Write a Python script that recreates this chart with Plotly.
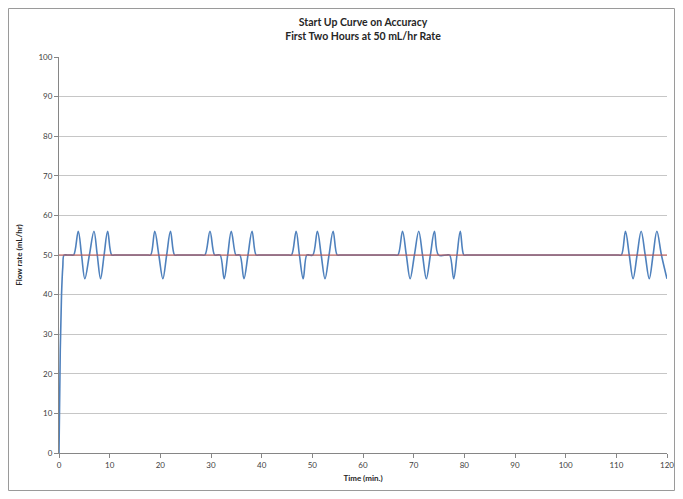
import plotly.graph_objects as go

# flow readings (min, mL/hr), one group per row
time_min = [
    0, 0.25, 0.5, 0.75, 1.0, 1.6, 2.4, 2.9,
    3.8, 4.45, 5.1, 6.0, 6.9, 7.55, 8.2, 8.9, 9.6, 10.4, 11.0,
    17.6, 18.1, 18.9, 19.7, 20.5, 21.25, 22.0, 22.8, 23.3,
    28.2, 28.8, 29.8, 30.7, 31.2, 31.8, 32.6, 33.3, 34.0, 34.9, 35.2, 35.7, 36.5, 37.3, 38.1, 38.9, 39.4,
    45.4, 45.9, 46.8, 47.45, 48.2, 48.9, 49.4, 50.1, 51.0, 51.75, 52.5, 53.3, 54.1, 54.9, 55.4,
    66.3, 66.9, 67.8, 68.55, 69.3, 70.15, 71.0, 71.75, 72.5, 73.3, 74.1, 74.9, 76.5, 77.1, 77.9, 78.55, 79.2, 79.9, 80.4,
    110.4, 111.0, 111.8, 112.55, 113.3, 114.1, 114.9, 115.7, 116.5, 117.25, 118.0, 118.9, 120.0,
]
flow_rate = [
    0, 26, 40, 47, 50, 50, 50, 50,
    56, 50, 44, 50, 56, 50, 44, 50, 56, 50, 50,
    50, 50, 56, 50, 44, 50, 56, 50, 50,
    50, 50, 56, 50, 50, 50, 44, 50, 56, 50, 50, 50, 44, 50, 56, 50, 50,
    50, 50, 56, 50, 44, 50, 50, 50, 56, 50, 44, 50, 56, 50, 50,
    50, 50, 56, 50, 44, 50, 56, 50, 44, 50, 56, 50, 50, 50, 44, 50, 56, 50, 50,
    50, 50, 56, 50, 44, 50, 56, 50, 44, 50, 56, 50, 44,
]

target_time = [0, 120]
target_flow = [50, 50]

fig = go.Figure()

fig.add_trace(go.Scatter(
    x=time_min, y=flow_rate,
    mode='lines',
    line=dict(color='#4F81BD', width=1.6, shape='spline', smoothing=1.0),
    name='Flow rate'
))

# 50 mL/hr set rate
fig.add_trace(go.Scatter(
    x=target_time, y=target_flow,
    mode='lines',
    line=dict(color='#C0504D', width=1),
    name='Set rate'
))

font_name = 'Lato, Open Sans, sans-serif'
axis_font = dict(family=font_name, size=8, color='#404040')

# page body adds an 8px margin, so keep the figure inside the visible window
W, H = 667, 483
fig.update_layout(
    width=W, height=H,
    margin=dict(l=51, r=8, t=49, b=38),
    paper_bgcolor='white',
    plot_bgcolor='white',
    showlegend=False,
    title=dict(
        text='<b>Start Up Curve on Accuracy</b><br><b>First Two Hours at 50 mL/hr Rate</b>',
        x=355 / W, xanchor='center',
        y=1 - 18 / H, yanchor='middle',
        font=dict(family=font_name, size=10.5, color='#262626')
    ),
    xaxis=dict(
        range=[0, 120], dtick=10,
        showgrid=False, zeroline=False,
        showline=True, linecolor='#868686', linewidth=1,
        ticks='outside', ticklen=4, tickcolor='#868686',
        tickfont=axis_font,
        automargin=False,
        title=dict(text='<b>Time (min.)</b>', standoff=6,
                   font=dict(family=font_name, size=8, color='#262626'))
    ),
    yaxis=dict(
        range=[0, 100], dtick=10,
        showgrid=True, gridcolor='#C6C6C6', gridwidth=1,
        zeroline=False,
        showline=True, linecolor='#868686', linewidth=1,
        ticks='outside', ticklen=4, tickcolor='#868686',
        tickfont=axis_font,
        automargin=False,
        title=dict(text='<b>Flow rate (mL/hr)</b>', standoff=14,
                   font=dict(family=font_name, size=8, color='#262626'))
    ),
)

# chart border like the spreadsheet chart frame
fig.add_shape(
    type='rect', xref='paper', yref='paper',
    x0=(0.5 - 51) / 608, x1=(666.5 - 51) / 608,
    y0=(445 - 482.5) / 396, y1=(445 - 0.5) / 396,
    line=dict(color='#9A9A9A', width=1),
    layer='below'
)

fig.write_html("out.html")
